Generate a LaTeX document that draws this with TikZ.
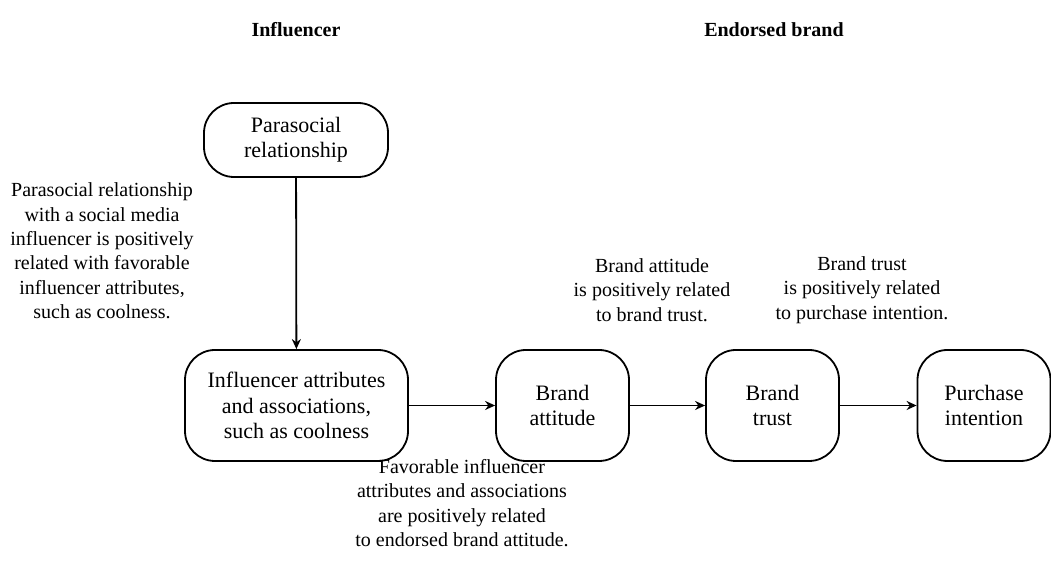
\documentclass[tikz,border=0pt]{standalone}
\usepackage{fontspec}
\setmainfont{Liberation Serif}
\usetikzlibrary{arrows.meta}
\tikzset{
  box/.style={draw, line width=0.9pt, rounded corners=15pt, align=center,
    font=\fontsize{11}{12.6}\selectfont, inner sep=0pt},
  note/.style={align=center, font=\fontsize{10}{12.2}\selectfont, inner sep=0pt},
  head/.style={font=\fontsize{10}{12}\selectfont\bfseries, inner sep=0pt},
  link/.style={line width=0.9pt, -{Stealth[length=5pt,width=4.5pt]}},
}
\begin{document}
\begin{tikzpicture}[x=0.5pt,y=-0.5pt]
\useasboundingbox (0,0) rectangle (1051,576);
\node[head] (h1) at (296,30) {Influencer};
\node[head] (h2) at (774,30) {Endorsed brand};
\node[box, minimum width=92pt, minimum height=37pt] (pr) at (296,140) {Parasocial\\relationship};
\node[box, minimum width=111.5pt, minimum height=55.5pt] (ia) at (296.5,405.5) {Influencer attributes\\and associations,\\such as coolness};
\node[box, minimum width=66.5pt, minimum height=55.5pt] (ba) at (562.5,405.5) {Brand\\attitude};
\node[box, minimum width=66.5pt, minimum height=55.5pt] (bt) at (772.5,405.5) {Brand\\trust};
\node[box, minimum width=66.5pt, minimum height=55.5pt] (pi) at (984,405.5) {Purchase\\intention};
\draw[link] (pr) -- (ia);
\draw[link] (ia) -- (ba);
\draw[link] (ba) -- (bt);
\draw[link] (bt) -- (pi);
\node[note] (n1) at (102,251) {Parasocial relationship\\with a social media\\influencer is positively\\related with favorable\\influencer attributes,\\such as coolness.};
\node[note] (n2) at (652,290) {Brand attitude\\is positively related\\to brand trust.};
\node[note] (n3) at (862,290) {Brand trust\\is positively related\\to purchase intention.};
\node[note] (n4) at (462,503) {Favorable influencer\\attributes and associations\\are positively related\\to endorsed brand attitude.};
\end{tikzpicture}
\end{document}
